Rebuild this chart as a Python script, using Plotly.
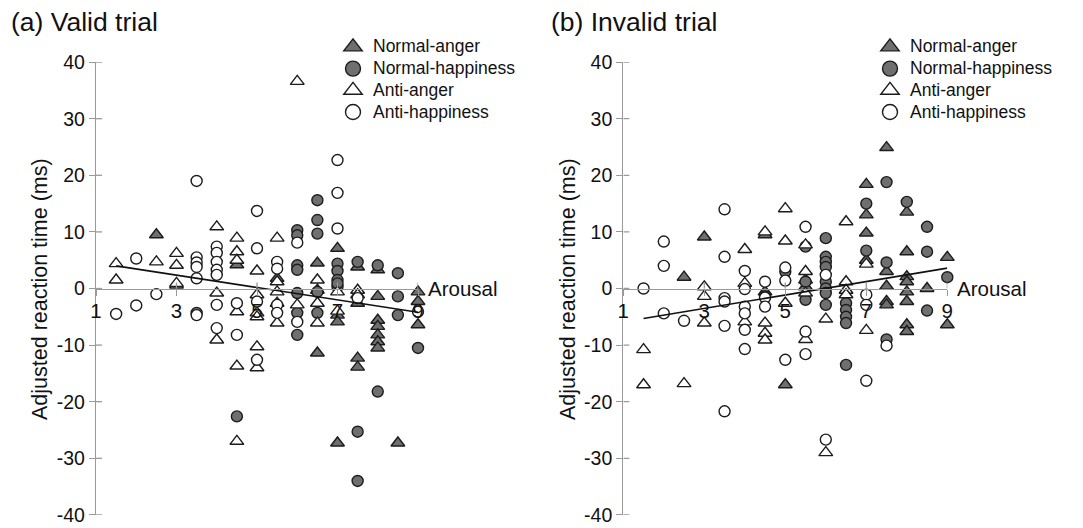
import plotly.graph_objects as go

# ---------------- data (arousal, adjusted RT) ----------------
# (a) Valid trial
va_normal_anger_x = [2.5, 3, 4.5, 5.5, 6.5, 6.5, 6.5, 7, 7, 7, 7, 7.5, 7.5, 7.5, 7.5, 8, 8, 8, 8, 8, 8, 8, 8.5, 9, 9, 9]
va_normal_anger_y = [9.5, 0.6, 4.2, 1.8, 4.5, -0.3, -11.4, 7.1, -4.7, -5.9, -27.3, 3.8, -2.6, -12.3, -13.9, 3.3, -1.4, -5.6, -6.7, -8.2, -9.4, -10.5, -27.3, -0.6, -2.3, -6.4]
va_normal_happy_x = [3.5, 4.5, 6, 6, 6, 6, 6, 6, 6, 6.5, 6.5, 6.5, 6.5, 6.5, 7, 7, 7, 7, 7, 7.5, 7.5, 7.5, 8, 8, 8.5, 8.5, 8.5, 9]
va_normal_happy_y = [-4.3, -22.6, 10.3, 9.4, 4.1, 3.3, -0.8, -4.3, -8.2, 15.6, 12.1, 9.7, -0.6, -4.3, 4.4, 3.1, 1.5, 0.3, 0.9, 4.7, -25.3, -34.0, 4.1, -18.2, 2.7, -1.4, -4.7, -10.5]
va_anti_anger_x = [1.5, 1.5, 2.5, 3, 3, 3, 4, 4, 4, 4.5, 4.5, 4.5, 4.5, 4.5, 4.5, 5, 5, 5, 5, 5, 5, 5.5, 5.5, 5.5, 5.5, 5.5, 6, 6, 6.5, 6.5, 6.5, 7, 7, 7.5, 7.5]
va_anti_anger_y = [4.4, 1.5, 4.7, 6.2, 4.1, 0.9, 10.9, -0.8, -9.1, 8.9, 6.5, 5.0, -4.1, -13.7, -27.0, 3.1, -1.1, -4.3, -5.0, -10.3, -14.0, 8.9, 1.2, -0.6, -2.6, -6.1, 36.6, -2.9, 1.5, -2.6, -6.1, -0.6, -4.0, -0.3, -1.1]
va_anti_happy_x = [1.5, 2, 2, 2.5, 3.5, 3.5, 3.5, 3.5, 3.5, 3.5, 4, 4, 4, 4, 4, 4, 4, 4.5, 4.5, 5, 5, 5, 5, 5.5, 5.5, 5.5, 5.5, 6, 6, 7, 7, 7, 7.5, 9]
va_anti_happy_y = [-4.5, 5.3, -3.0, -1.0, 19.0, 5.5, 4.6, 3.8, 1.8, -4.7, 7.4, 6.3, 4.7, 3.3, 2.4, -2.9, -7.0, -2.6, -8.2, 13.7, 7.1, -2.3, -12.6, 4.7, 3.5, -2.9, -4.3, 8.1, -5.9, 22.7, 16.9, 10.6, -1.7, -4.1]
va_fit_x = [1.5, 9]
va_fit_y = [4.0, -4.2]

# (b) Invalid trial
inv_normal_anger_x = [2.5, 3, 4.5, 4.5, 5, 5.5, 5.5, 7, 7, 7, 7, 7.5, 7.5, 7.5, 7.5, 7.5, 8, 8, 8, 8, 8, 8, 8, 8, 8.5, 9, 9]
inv_normal_anger_y = [2.0, 9.1, 9.5, -0.6, -17.0, 1.5, 0.3, 18.4, 13.0, 9.8, 5.0, 24.9, 3.0, 0.4, -2.3, -2.9, 13.5, 6.5, 2.1, 1.2, -0.6, -2.3, -6.4, -7.6, 0.0, 5.5, -6.4]
inv_normal_happy_x = [4.5, 5, 5.5, 5.5, 5.5, 6, 6, 6, 6, 6, 6, 6, 6, 6.5, 6.5, 6.5, 6.5, 6.5, 7, 7, 7.5, 7.5, 7.5, 8, 8.5, 8.5, 8.5, 9]
inv_normal_happy_y = [-1.4, 3.0, 7.4, 1.2, -2.0, 8.9, 5.6, 4.7, 3.8, 1.2, 0.0, -0.8, -2.9, -2.6, -3.8, -5.0, -6.1, -13.5, 15.0, 6.7, 18.8, 4.6, -9.0, 15.3, 10.9, 6.5, -3.9, 2.0]
inv_anti_anger_x = [1.5, 1.5, 2.5, 3, 3, 3, 4, 4, 4, 4.5, 4.5, 4.5, 4.5, 5, 5, 5, 5.5, 5.5, 5.5, 5.5, 6, 6, 6.5, 6.5, 6.5, 6.5, 7, 7]
inv_anti_anger_y = [-10.8, -17.0, -16.8, 0.3, -1.4, -6.1, 6.9, 0.9, -5.9, 10.0, -6.1, -7.9, -9.1, 14.1, 8.4, -2.6, 7.7, 3.0, -0.8, -9.0, -5.4, -29.0, 11.8, 1.2, -0.3, -1.1, 4.3, -7.4]
inv_anti_happy_x = [1.5, 2, 2, 2, 2.5, 3.5, 3.5, 3.5, 3.5, 3.5, 3.5, 4, 4, 4, 4, 4, 4, 4.5, 4.5, 4.5, 5, 5, 5, 5.5, 5.5, 5.5, 6, 6, 7, 7, 7, 7.5]
inv_anti_happy_y = [0.0, 8.3, 4.0, -4.4, -5.7, 14.0, 5.6, -1.7, -2.3, -6.6, -21.7, 3.1, -0.1, -3.2, -4.4, -7.3, -10.7, 1.2, -1.6, -3.2, 3.7, 1.4, -12.6, 10.9, -7.6, -11.6, 2.4, -26.7, -1.1, -2.9, -16.3, -10.1]
inv_fit_x = [1.5, 9]
inv_fit_y = [-5.3, 3.6]

series_names = ["Normal-anger", "Normal-happiness", "Anti-anger", "Anti-happiness"]
x_tick_vals = [1, 3, 5, 7, 9]
y_tick_vals = [-40, -30, -20, -10, 0, 10, 20, 30, 40]
y_tick_text = ["-40", "-30", "-20", "-10", "0", "10", "20", "30", "40"]
panel_titles = ["(a) Valid trial", "(b) Invalid trial"]

# ---------------- styling ----------------
OFF = 8                      # page body margin in which the figure is placed
W, H = 1083 - OFF, 528 - OFF  # figure size

def fx(px):   # target screen x pixel -> paper fraction
    return (px - OFF) / W

def fy(py):   # target screen y pixel -> paper fraction
    return 1 - (py - OFF) / H

FONT = "Liberation Sans, Arial, sans-serif"
GRAY = "#6f6f6f"
EDGE = "#1c1c1c"
AXC = "#9a9a9a"
styles = [
    dict(symbol="triangle-up", color=GRAY, size=12),
    dict(symbol="circle", color=GRAY, size=11),
    dict(symbol="triangle-up", color="white", size=12),
    dict(symbol="circle", color="white", size=11),
]
legend_sizes = [16, 15, 16, 15]

fig = go.Figure()

panels = [
    dict(xa="x", ya="y", leg="legend",
         data=[(va_normal_anger_x, va_normal_anger_y), (va_normal_happy_x, va_normal_happy_y),
               (va_anti_anger_x, va_anti_anger_y), (va_anti_happy_x, va_anti_happy_y)],
         fit=(va_fit_x, va_fit_y)),
    dict(xa="x2", ya="y2", leg="legend2",
         data=[(inv_normal_anger_x, inv_normal_anger_y), (inv_normal_happy_x, inv_normal_happy_y),
               (inv_anti_anger_x, inv_anti_anger_y), (inv_anti_happy_x, inv_anti_happy_y)],
         fit=(inv_fit_x, inv_fit_y)),
]

for p in panels:
    for (xs, ys), st, nm in zip(p["data"], styles, series_names):
        fig.add_trace(go.Scatter(
            x=xs, y=ys, mode="markers", xaxis=p["xa"], yaxis=p["ya"], showlegend=False,
            cliponaxis=False, name=nm,
            marker=dict(symbol=st["symbol"], size=st["size"], color=st["color"],
                        line=dict(color=EDGE, width=1.4))))
    fig.add_trace(go.Scatter(
        x=p["fit"][0], y=p["fit"][1], mode="lines", xaxis=p["xa"], yaxis=p["ya"],
        showlegend=False, line=dict(color="#111111", width=1.6), cliponaxis=False))
    # legend entries (larger markers as in the original)
    for st, nm, ls in zip(styles, series_names, legend_sizes):
        fig.add_trace(go.Scatter(
            x=[None], y=[None], mode="markers", xaxis=p["xa"], yaxis=p["ya"],
            name='<span style="font-size:17.5px">' + nm + '</span>',
            legend=p["leg"], showlegend=True,
            marker=dict(symbol=st["symbol"], size=ls, color=st["color"],
                        line=dict(color=EDGE, width=1.4))))

y_bot = fy(514.9)
y_top = fy(62.1)
x_axis_pos = fy(288.5)

def xaxis_cfg(d0, d1):
    return dict(domain=[fx(d0), fx(d1)], range=[1, 9], anchor="free", position=x_axis_pos,
                tickmode="array", tickvals=x_tick_vals, ticks="outside", ticklen=6,
                tickcolor=AXC, tickwidth=1.3, showline=True, linecolor=AXC, linewidth=1.3,
                showgrid=False, zeroline=False, ticklabelstandoff=-2, automargin=False,
                tickfont=dict(family=FONT, size=20.5, color="#111"))

def yaxis_cfg(anchor):
    return dict(domain=[y_bot, y_top], range=[-40, 40], anchor=anchor, automargin=False,
                tickmode="array", tickvals=y_tick_vals, ticktext=y_tick_text,
                ticks="outside", ticklen=6, tickcolor=AXC, tickwidth=1.3,
                showline=True, linecolor=AXC, linewidth=1.3, showgrid=False, zeroline=False,
                tickfont=dict(family=FONT, size=19.5, color="#111"))

legend_common = dict(font=dict(family=FONT, size=14.4, color="#111"), bgcolor="rgba(0,0,0,0)",
                     yanchor="top", xanchor="left", tracegroupgap=0, itemwidth=30,
                     y=fy(31))

fig.update_layout(
    width=W, height=H, margin=dict(l=0, r=0, t=0, b=0, autoexpand=False),
    paper_bgcolor="white", plot_bgcolor="white",
    xaxis=xaxis_cfg(96, 418), yaxis=yaxis_cfg("x"),
    xaxis2=xaxis_cfg(623.3, 947.3), yaxis2=yaxis_cfg("x2"),
    legend=dict(x=fx(333), **legend_common),
    legend2=dict(x=fx(870), **legend_common),
    showlegend=True,
)

# inner halves of the tick marks (ticks cross the axis lines)
shapes = []
for xa, ya in (("x", "y"), ("x2", "y2")):
    for v in y_tick_vals:
        shapes.append(dict(type="line", xref=xa, yref=ya, xsizemode="pixel", xanchor=1,
                           x0=0, x1=6, y0=v, y1=v, line=dict(color=AXC, width=1.3)))
    for v in x_tick_vals[1:]:
        shapes.append(dict(type="line", xref=xa, yref=ya, ysizemode="pixel", yanchor=0,
                           y0=0, y1=6, x0=v, x1=v, line=dict(color=AXC, width=1.3)))
fig.update_layout(shapes=shapes)

ann = []
for xa, ya, px_ytitle in (("x", "y", 40), ("x2", "y2", 568)):
    ann.append(dict(text="Arousal", xref=xa, yref=ya, x=9, y=0, xanchor="left", yanchor="middle",
                    xshift=8, showarrow=False, font=dict(family=FONT, size=20.5, color="#111")))
    ann.append(dict(text="Adjusted reaction time (ms)", xref="paper", yref="paper",
                    x=fx(px_ytitle), y=fy(289), textangle=-90, xanchor="center",
                    yanchor="middle", showarrow=False,
                    font=dict(family=FONT, size=21.5, color="#111")))
for t, px in zip(panel_titles, (8.5, 548.5)):
    ann.append(dict(text=t, xref="paper", yref="paper", x=fx(px), y=fy(22),
                    xanchor="left", yanchor="middle", showarrow=False,
                    font=dict(family=FONT, size=26.5, color="#111")))
fig.update_layout(annotations=ann)

fig.write_html("out.html")
